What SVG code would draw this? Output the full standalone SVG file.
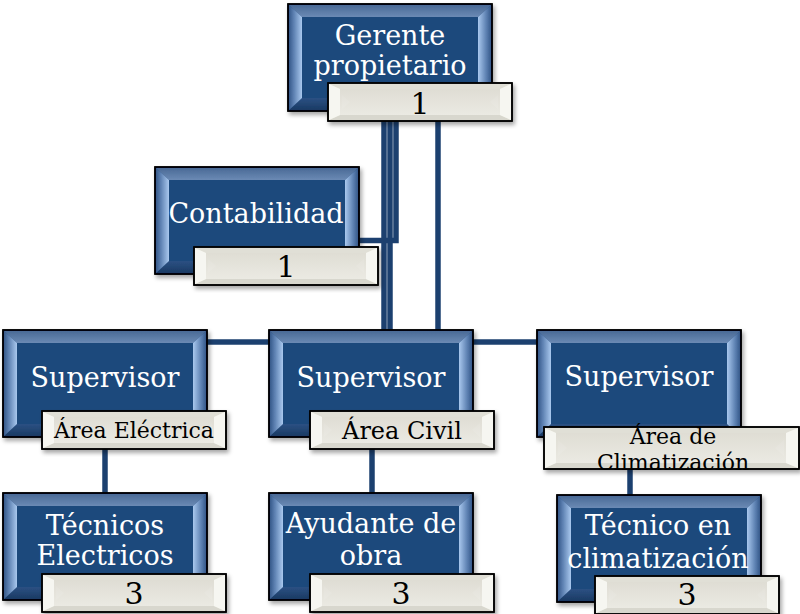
<svg xmlns="http://www.w3.org/2000/svg" xmlns:xlink="http://www.w3.org/1999/xlink" width="800" height="614" viewBox="0 0 800 614">
<style>
.conn{stroke:#1c406f;stroke-width:5.5;fill:none}
.t{font-family:"DejaVu Serif","Liberation Serif",serif;font-size:27px;fill:#ffffff;text-anchor:middle}
.b{font-family:"DejaVu Serif","Liberation Serif",serif;font-size:22px;fill:#000000;text-anchor:middle}
.n{font-family:"DejaVu Serif","Liberation Serif",serif;font-size:30px;fill:#000000;text-anchor:middle}
</style>
<defs>
<filter id="sh" x="-10%" y="-10%" width="125%" height="130%">
<feDropShadow dx="2" dy="3" stdDeviation="2" flood-color="#000" flood-opacity="0.35"/>
</filter>
<linearGradient id="gL" x1="0" y1="0" x2="1" y2="0">
<stop offset="0" stop-color="#36598a"/><stop offset="0.35" stop-color="#5b7fb0"/><stop offset="1" stop-color="#a9c8ee"/>
</linearGradient>
<linearGradient id="gR" x1="1" y1="0" x2="0" y2="0">
<stop offset="0" stop-color="#36598a"/><stop offset="0.35" stop-color="#5b7fb0"/><stop offset="1" stop-color="#a9c8ee"/>
</linearGradient>
<linearGradient id="gT" x1="0" y1="0" x2="0" y2="1">
<stop offset="0" stop-color="#4a6a96"/><stop offset="1" stop-color="#6b8ab4"/>
</linearGradient>
<linearGradient id="gB" x1="0" y1="1" x2="0" y2="0">
<stop offset="0" stop-color="#1a3a64"/><stop offset="1" stop-color="#2c5183"/>
</linearGradient>
<linearGradient id="gF" x1="0" y1="0" x2="0" y2="1">
<stop offset="0" stop-color="#dedcd3"/><stop offset="1" stop-color="#ebeae3"/>
</linearGradient>
<g id="box" filter="url(#sh)">
<rect x="0" y="0" width="204" height="107" fill="#1f487c" stroke="#000" stroke-width="1.5"/>
<polygon points="1,1 203,1 190,13 14,13" fill="url(#gT)"/>
<polygon points="1,106 203,106 190,94 14,94" fill="url(#gB)"/>
<polygon points="1,1 14,13 14,94 1,106" fill="url(#gL)"/>
<polygon points="203,1 190,13 190,94 203,106" fill="url(#gR)"/>
<rect x="14" y="13" width="176" height="81" fill="#1f487c"/>
<rect x="0" y="0" width="204" height="107" fill="none" stroke="#000" stroke-width="1.5"/>
</g>
<g id="badge" filter="url(#sh)">
<rect x="0" y="0" width="184" height="38" fill="#e8e7de" stroke="#000" stroke-width="1.5"/>
<polygon points="1,1 183,1 172,6 12,6" fill="#e0dfd6"/>
<polygon points="1,37 183,37 172,32 12,32" fill="#d8d7ce"/>
<polygon points="1,1 12,6 12,32 1,37" fill="#f6f6f1"/>
<polygon points="183,1 172,6 172,32 183,37" fill="#f6f6f1"/>
<polygon points="14,12 22,19 14,26" fill="#ffffff" opacity="0.8"/>
<polygon points="170,12 162,19 170,26" fill="#ffffff" opacity="0.8"/>
<rect x="12" y="6" width="160" height="26" fill="url(#gF)" opacity="0.9"/>
<rect x="0" y="0" width="184" height="38" fill="none" stroke="#000" stroke-width="1.5"/>
</g>
<g id="badgeW" filter="url(#sh)">
<rect x="0" y="0" width="255" height="42" fill="#e8e7de" stroke="#000" stroke-width="1.5"/>
<polygon points="1,1 254,1 242,6 12,6" fill="#e0dfd6"/>
<polygon points="1,41 254,41 242,36 12,36" fill="#d8d7ce"/>
<polygon points="1,1 12,6 12,36 1,41" fill="#f6f6f1"/>
<polygon points="254,1 242,6 242,36 254,41" fill="#f6f6f1"/>
<polygon points="14,13 23,21 14,29" fill="#ffffff" opacity="0.8"/>
<polygon points="240,13 231,21 240,29" fill="#ffffff" opacity="0.8"/>
<rect x="12" y="6" width="230" height="30" fill="url(#gF)" opacity="0.9"/>
<rect x="0" y="0" width="255" height="42" fill="none" stroke="#000" stroke-width="1.5"/>
</g>
</defs>
<rect width="800" height="614" fill="#ffffff"/>
<g id="connectors">
<line class="conn" x1="384" y1="115" x2="384" y2="332"/>
<line class="conn" x1="390" y1="115" x2="390" y2="332"/>
<polyline class="conn" points="396,115 396,240.5 356,240.5"/>
<line class="conn" x1="438" y1="115" x2="438" y2="332"/>
<line class="conn" x1="203" y1="342" x2="539" y2="342"/>
<line class="conn" x1="105" y1="445" x2="105" y2="495"/>
<line class="conn" x1="372" y1="445" x2="372" y2="495"/>
<line class="conn" x1="630" y1="465" x2="630" y2="497"/>
</g>
<g id="node-gerente">
<use xlink:href="#box" x="288" y="4"/>
<text class="t" x="390" y="45">Gerente</text>
<text class="t" x="390" y="75">propietario</text>
<use xlink:href="#badge" x="328" y="83"/>
<text class="n" x="420" y="114">1</text>
</g>
<g id="node-contabilidad">
<use xlink:href="#box" x="155" y="167"/>
<text class="t" x="256" y="223">Contabilidad</text>
<use xlink:href="#badge" x="194" y="247"/>
<text class="n" x="286" y="277">1</text>
</g>
<g id="node-sup-electrica">
<use xlink:href="#box" x="3" y="330"/>
<text class="t" x="105" y="387">Supervisor</text>
<use xlink:href="#badge" x="42" y="411"/>
<text class="b" x="134" y="438">Área Eléctrica</text>
</g>
<g id="node-sup-civil">
<use xlink:href="#box" x="269" y="330"/>
<text class="t" x="371" y="387">Supervisor</text>
<use xlink:href="#badge" x="310" y="411"/>
<text class="b" x="402" y="439" style="font-size:24px">Área Civil</text>
</g>
<g id="node-sup-clima">
<use xlink:href="#box" x="537" y="330"/>
<text class="t" x="639" y="386">Supervisor</text>
<use xlink:href="#badgeW" x="544" y="427"/>
<text class="b" x="673" y="444">Área de</text>
<text class="b" x="673" y="470">Climatización</text>
</g>
<g id="node-tec-electricos">
<use xlink:href="#box" x="3" y="493"/>
<text class="t" x="105" y="535">Técnicos</text>
<text class="t" x="105" y="565">Electricos</text>
<use xlink:href="#badge" x="42" y="574"/>
<text class="n" x="134" y="604">3</text>
</g>
<g id="node-ayudante">
<use xlink:href="#box" x="269" y="493"/>
<text class="t" x="371" y="533">Ayudante de</text>
<text class="t" x="371" y="565">obra</text>
<use xlink:href="#badge" x="310" y="574"/>
<text class="n" x="401" y="604">3</text>
</g>
<g id="node-tec-clima">
<use xlink:href="#box" x="557" y="495"/>
<text class="t" x="658" y="535">Técnico en</text>
<text class="t" x="658" y="568">climatización</text>
<use xlink:href="#badge" x="595" y="576"/>
<text class="n" x="687" y="605">3</text>
</g>
</svg>
